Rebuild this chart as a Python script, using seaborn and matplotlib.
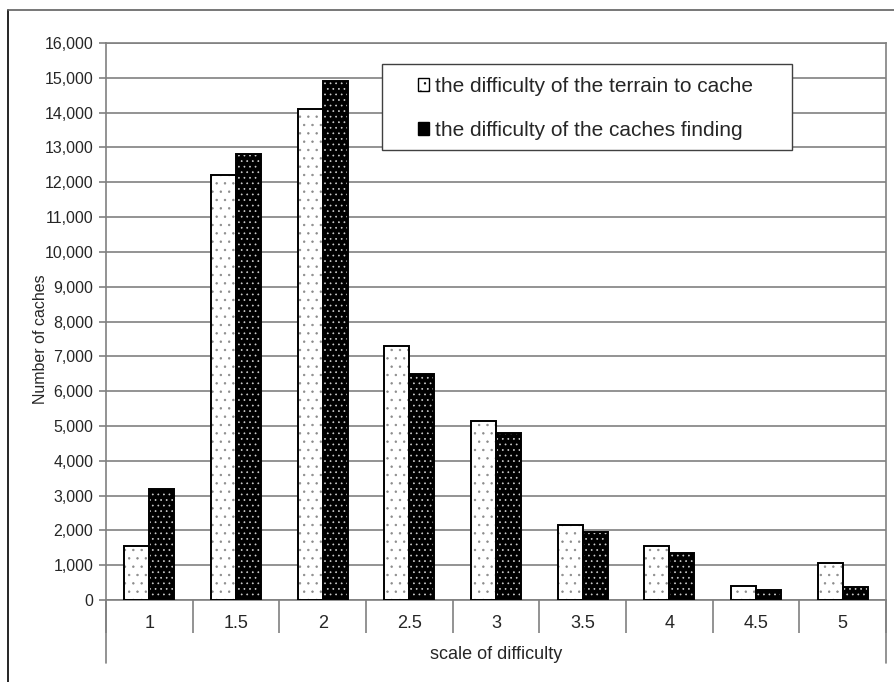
"""
Geocaching difficulty distribution: terrain vs. finding difficulty
"""

import numpy as np
import pandas as pd
import matplotlib
matplotlib.use("Agg")
import matplotlib.pyplot as plt
import seaborn as sns
from matplotlib.patches import Rectangle, Patch
from matplotlib.ticker import FuncFormatter, MultipleLocator
from matplotlib.lines import Line2D

categories = ["1", "1.5", "2", "2.5", "3", "3.5", "4", "4.5", "5"]
terrain = [1550, 12200, 14100, 7300, 5150, 2150, 1550, 400, 1050]
finding = [3200, 12800, 14900, 6500, 4800, 1950, 1350, 300, 360]
series_names = ["the difficulty of the terrain to cache",
                "the difficulty of the caches finding"]

df = pd.DataFrame({
    "scale": categories * 2,
    "count": terrain + finding,
    "series": [series_names[0]] * len(categories) + [series_names[1]] * len(categories),
})

sns.set_style("white")
plt.rcParams["font.family"] = ["Liberation Sans", "DejaVu Sans"]
plt.rcParams["hatch.linewidth"] = 0.5

fig = plt.figure(figsize=(8.95, 6.82), dpi=100)
ax = fig.add_axes([106 / 895, 1 - 600 / 682, 780 / 895, 557 / 682])

sns.barplot(data=df, x="scale", y="count", hue="series", order=categories,
            hue_order=series_names, width=0.58, gap=0, legend=False, ax=ax)

# style bars: dotted white and dotted black
n = len(categories)
for i, bar in enumerate(ax.patches[:2 * n]):
    if i < n:
        bar.set_facecolor("white")
        bar.set_edgecolor("#8a8a8a")
        bar.set_hatch("..")
    else:
        bar.set_facecolor("black")
        bar.set_edgecolor("#d0d0d0")
        bar.set_hatch("...")
    bar.set_linewidth(0)
    outline = Rectangle(bar.get_xy(), bar.get_width(), bar.get_height(),
                        fill=False, edgecolor="black", linewidth=1.4, zorder=3)
    ax.add_patch(outline)

ax.set_ylim(0, 16000)
ax.set_xlim(-0.5, n - 0.5)
ax.yaxis.set_major_locator(MultipleLocator(1000))
ax.yaxis.set_major_formatter(FuncFormatter(lambda v, p: f"{int(v):,}"))
ax.grid(axis="y", color="#808080", linewidth=1.2)
ax.set_axisbelow(True)

for side in ["top", "right", "left", "bottom"]:
    ax.spines[side].set_visible(True)
    ax.spines[side].set_color("#808080")
    ax.spines[side].set_linewidth(1.2)

ax.tick_params(axis="y", left=True, length=5, width=1.2, color="#808080",
               labelsize=11.5, pad=4)
ax.tick_params(axis="x", bottom=False, labelsize=13, pad=7)
ax.set_xticks(np.arange(-0.5, n, 1.0), minor=True)
ax.tick_params(axis="x", which="minor", bottom=True, length=24, width=1.2,
               color="#808080", direction="out")

# left and right lines extending below the category row
trans = ax.get_xaxis_transform()
for xv in [-0.5, n - 0.5]:
    ax.add_line(Line2D([xv, xv], [0, -63 / 557], transform=trans, color="#808080",
                       linewidth=1.2, clip_on=False))

ax.set_xlabel("scale of difficulty", fontsize=13, labelpad=6)
ax.set_ylabel("Number of caches", fontsize=11.5)
ax.yaxis.set_label_coords(-58 / 780, 261 / 557)

# legend box drawn separately so its padding matches the original
ax.add_patch(Rectangle((276 / 780, 450 / 557), 410 / 780, 86 / 557,
                       transform=ax.transAxes, facecolor="white",
                       edgecolor="#404040", linewidth=1.0, zorder=4))
handles = [Patch(facecolor="white", edgecolor="black", hatch="..", linewidth=1),
           Patch(facecolor="black", edgecolor="black", linewidth=1)]
leg = ax.legend(handles, series_names, loc="upper left",
                bbox_to_anchor=(312 / 780, 523 / 557), fontsize=15,
                frameon=False, handlelength=0.55, handleheight=0.55,
                handletextpad=0.25, borderpad=0, labelspacing=1.2,
                borderaxespad=0)
leg.set_zorder(5)

# outer chart frame
fig.add_artist(Line2D([8 / 895, 8 / 895], [0, 1 - 10 / 682], transform=fig.transFigure,
                      color="black", linewidth=1.2))
fig.add_artist(Line2D([8 / 895, 1], [1 - 10 / 682, 1 - 10 / 682], transform=fig.transFigure,
                      color="#606060", linewidth=1.2))

fig.savefig("out.png", dpi=100, facecolor="white")
